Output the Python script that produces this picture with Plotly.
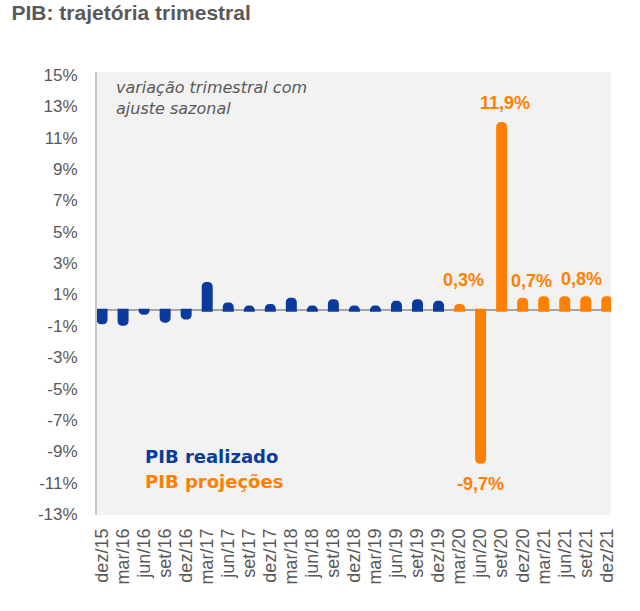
import plotly.graph_objects as go

# Trimestres (dez/15 a dez/21)
trimestres = ['dez/15', 'mar/16', 'jun/16', 'set/16', 'dez/16', 'mar/17', 'jun/17', 'set/17',
              'dez/17', 'mar/18', 'jun/18', 'set/18', 'dez/18', 'mar/19', 'jun/19', 'set/19',
              'dez/19', 'mar/20', 'jun/20', 'set/20', 'dez/20', 'mar/21', 'jun/21', 'set/21',
              'dez/21']

# PIB realizado (variação % trimestral com ajuste sazonal)
realizado_x = trimestres[:17]
realizado = [-0.8, -0.9, -0.2, -0.7, -0.5, 1.7, 0.4, 0.2,
             0.3, 0.7, 0.2, 0.6, 0.2, 0.2, 0.5, 0.6, 0.5]

# PIB projeções
projecao_x = trimestres[17:]
projecao = [0.3, -9.7, 11.9, 0.7, 0.8, 0.8, 0.8, 0.8]

# rótulos de dados
rotulos_x = ['mar/20', 'set/20', 'jun/20', 'dez/20', 'set/21']
rotulos_txt = ['0,3%', '11,9%', '-9,7%', '0,7%', '0,8%']

y_ticks = list(range(-13, 16, 2))

AZUL = '#0a3a9c'
LARANJA = '#ff8000'
CINZA = '#595959'
FONTE = 'Liberation Sans'

fig = go.Figure()
fig.add_trace(go.Bar(x=realizado_x, y=realizado, width=0.38, name='PIB realizado',
                     marker=dict(color=AZUL, cornerradius=3, line=dict(color=AZUL, width=3))))
fig.add_trace(go.Bar(x=projecao_x, y=projecao, width=0.38, name='PIB projeções',
                     marker=dict(color=LARANJA, cornerradius=3, line=dict(color=LARANJA, width=3))))

# rótulos de dados (deslocamentos em pixels)
valores = dict(zip(realizado_x + projecao_x, realizado + projecao))
desloc = {'0,3%': (4, 26), '11,9%': (3, 21), '-9,7%': (0, -22), '0,7%': (9, 18), '0,8%': (-4, 19)}
for x, t in zip(rotulos_x, rotulos_txt):
    dx, dy = desloc[t]
    fig.add_annotation(x=x, y=valores[x], text='<b>' + t + '</b>', showarrow=False,
                       xshift=dx, yshift=dy, yanchor='middle',
                       font=dict(family=FONTE, size=18, color=LARANJA))

# nota e legenda em texto
fig.add_annotation(xref='paper', yref='paper', x=0.034, y=0.99, xanchor='left', yanchor='top',
                   align='left', showarrow=False,
                   text='<i>variação trimestral com<br>ajuste sazonal</i>',
                   font=dict(family='DejaVu Sans', size=16, color=CINZA))
fig.add_annotation(xref='paper', yref='paper', x=0.09, y=0.132, xanchor='left', yanchor='middle',
                   showarrow=False, text='<b>PIB realizado</b>',
                   font=dict(family='DejaVu Sans', size=18, color=AZUL))
fig.add_annotation(xref='paper', yref='paper', x=0.09, y=0.076, xanchor='left', yanchor='middle',
                   showarrow=False, text='<b>PIB projeções</b>',
                   font=dict(family='DejaVu Sans', size=18, color=LARANJA))

fig.update_layout(
    width=640, height=611,
    margin=dict(l=97, r=29, t=72, b=96),
    paper_bgcolor='white',
    plot_bgcolor='#f2f2f2',
    showlegend=False,
    barmode='overlay',
    title=dict(text='<b>PIB: trajetória trimestral</b>', x=0.018, xanchor='left',
               y=0.979, yanchor='middle',
               font=dict(family=FONTE, size=21, color=CINZA)),
    xaxis=dict(type='category', categoryorder='array', categoryarray=trimestres,
               tickmode='array', tickvals=trimestres, ticktext=trimestres,
               range=[-0.24, 24.2], tickangle=-90, showgrid=False, ticks='',
               ticklabelstandoff=9,
               tickfont=dict(family=FONTE, size=18, color=CINZA)),
    yaxis=dict(range=[-13.06, 15.19], tickvals=y_ticks,
               ticktext=[f'{v}%' for v in y_ticks], showgrid=False,
               zeroline=True, zerolinecolor='#a6a6a6', zerolinewidth=2,
               showline=True, linecolor='#c8c8c8', linewidth=2,
               ticks='', ticklen=0, ticklabelstandoff=14,
               tickfont=dict(family=FONTE, size=17, color=CINZA)),
)

fig.write_html("out.html", config={'displayModeBar': False},
               post_script="document.body.style.margin='0';")
